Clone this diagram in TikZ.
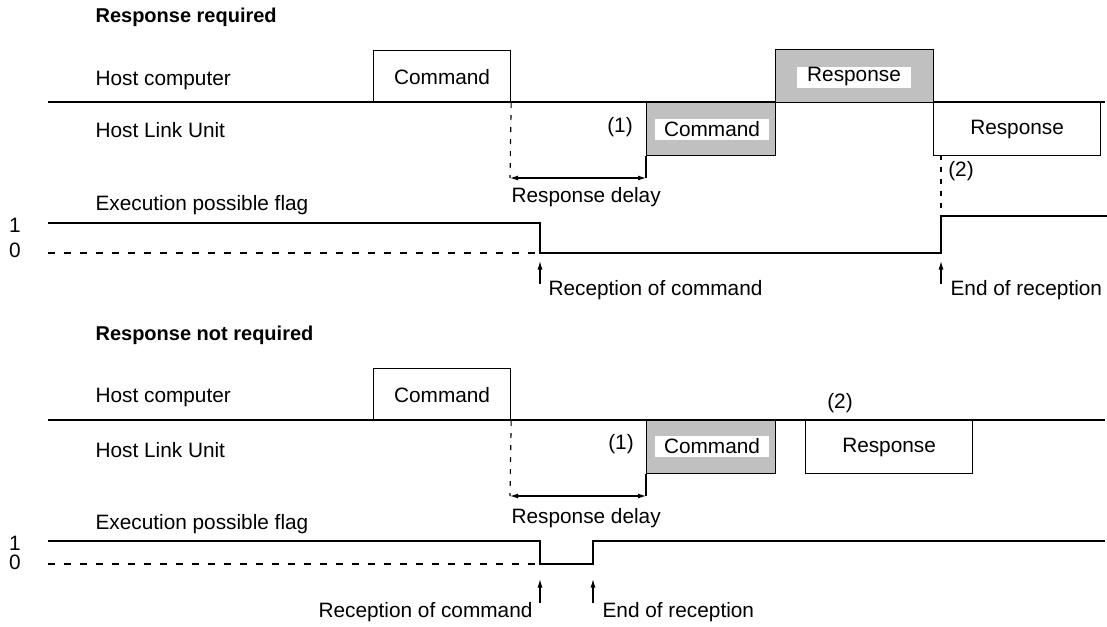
\documentclass[tikz,border=0pt]{standalone}
\usepackage{fontspec}
\setmainfont{Liberation Sans}
\usetikzlibrary{arrows.meta}
\definecolor{shade}{RGB}{192,192,192}
\begin{document}
\begin{tikzpicture}[x=1pt,y=-1pt,line width=1.15pt,
  every node/.style={font=\fontsize{20.8}{24}\selectfont},
  lbl/.style={anchor=base west, inner sep=0pt},
  lble/.style={anchor=base east, inner sep=0pt},
  title/.style={anchor=base west, inner sep=0pt, font=\fontsize{20}{24}\selectfont\bfseries},
  sig/.style={draw, inner sep=0pt, anchor=north west},
  shadebox/.style={sig, fill=shade},
  tag/.style={fill=white, inner sep=0pt, minimum width=114pt, minimum height=21pt},
  dashv/.style={dash pattern=on 5pt off 7pt},
  dashh/.style={dash pattern=on 7pt off 9pt},
  delay/.style={{Latex[length=8pt,width=5pt]}-{Latex[length=8pt,width=5pt]}},
  marker/.style={-{Latex[length=8.5pt,width=5pt]}}
]
\useasboundingbox (0,0) rectangle (1107,626);

% ---------------- Response required ----------------
\node[title] (t1) at (95,23) {Response required};
\node[lbl] (hcA) at (95,85) {Host computer};
\coordinate (lineAs) at (48,102);
\coordinate (lineAe) at (1105,102);
\draw (lineAs) -- (lineAe);
\node[sig, minimum width=137pt, minimum height=52pt] (cmdA) at (373,50) {Command};
\node[shadebox, minimum width=158pt, minimum height=53pt] (resA) at (775,49) {};
\node[tag] (resAt) at (854,77) {Response};
\node[lbl] (hluA) at (95,137) {Host Link Unit};
\node (oneA) at (620,127) {(1)};
\node[shadebox, minimum width=129pt, minimum height=53pt] (cmdB) at (646,102) {};
\node[tag] (cmdBt) at (712,129.5) {Command};
\node[sig, minimum width=167pt, minimum height=53pt] (resB) at (933,102) {Response};
\coordinate (dA) at (510,178);
\coordinate (dB) at (646,178);
\draw[dashv] (cmdA.south east) -- (dA);
\draw (cmdB.south west) -- (dB);
\draw[delay] (dA) -- (dB);
\node[lbl] (rdA) at (511,202) {Response delay};
\node[lbl] (epfA) at (95,210) {Execution possible flag};
\node (oneLA) at (15,225) {1};
\node (zeroLA) at (15,250) {0};
\coordinate (wA1) at (48,223);
\coordinate (wA2) at (540,223);
\coordinate (wA3) at (540,253);
\coordinate (wA4) at (941,253);
\coordinate (wA5) at (941,216);
\coordinate (wA6) at (1107,216);
\coordinate (wA0) at (48,253);
\draw (wA1) -- (wA2) -- (wA3) -- (wA4) -- (wA5) -- (wA6);
\draw[dashh] (wA0) -- (wA3);
\coordinate (eA) at (941,155);
\draw[dashv] (eA) -- (wA5);
\node (twoA) at (961,171) {(2)};
\coordinate (mA1t) at (540,284);
\coordinate (mA1h) at (540,261);
\coordinate (mA2t) at (941,284);
\coordinate (mA2h) at (941,261);
\draw[marker] (mA1t) -- (mA1h);
\draw[marker] (mA2t) -- (mA2h);
\node[lbl] (recA) at (548,295) {Reception of command};
\node[lbl] (endA) at (950,295) {End of reception};

% ---------------- Response not required ----------------
\node[title] (t2) at (95,340) {Response not required};
\node[lbl] (hcC) at (95,402) {Host computer};
\coordinate (lineCs) at (48,420);
\coordinate (lineCe) at (1105,420);
\draw (lineCs) -- (lineCe);
\node[sig, minimum width=137pt, minimum height=52pt] (cmdC) at (373,368) {Command};
\node (twoC) at (840,403) {(2)};
\node[lbl] (hluC) at (95,457) {Host Link Unit};
\node (oneC) at (621,444) {(1)};
\node[shadebox, minimum width=129pt, minimum height=53pt] (cmdD) at (646,420) {};
\node[tag] (cmdDt) at (712,446.5) {Command};
\node[sig, minimum width=167pt, minimum height=53pt] (resD) at (805,420) {Response};
\coordinate (dC) at (510,496);
\coordinate (dD) at (646,496);
\draw[dashv] (cmdC.south east) -- (dC);
\draw (cmdD.south west) -- (dD);
\draw[delay] (dC) -- (dD);
\node[lbl] (rdC) at (511,523) {Response delay};
\node[lbl] (epfC) at (95,529) {Execution possible flag};
\node (oneLC) at (15,543) {1};
\node (zeroLC) at (15,562) {0};
\coordinate (wC1) at (48,541);
\coordinate (wC2) at (540,541);
\coordinate (wC3) at (540,564);
\coordinate (wC4) at (593,564);
\coordinate (wC5) at (593,541);
\coordinate (wC6) at (1105,541);
\coordinate (wC0) at (48,564);
\draw (wC1) -- (wC2) -- (wC3) -- (wC4) -- (wC5) -- (wC6);
\draw[dashh] (wC0) -- (wC3);
\coordinate (mC1t) at (540,603);
\coordinate (mC1h) at (540,579);
\coordinate (mC2t) at (593,603);
\coordinate (mC2h) at (593,579);
\draw[marker] (mC1t) -- (mC1h);
\draw[marker] (mC2t) -- (mC2h);
\node[lble] (recC) at (533,617) {Reception of command};
\node[lbl] (endC) at (602,617) {End of reception};
\end{tikzpicture}
\end{document}
